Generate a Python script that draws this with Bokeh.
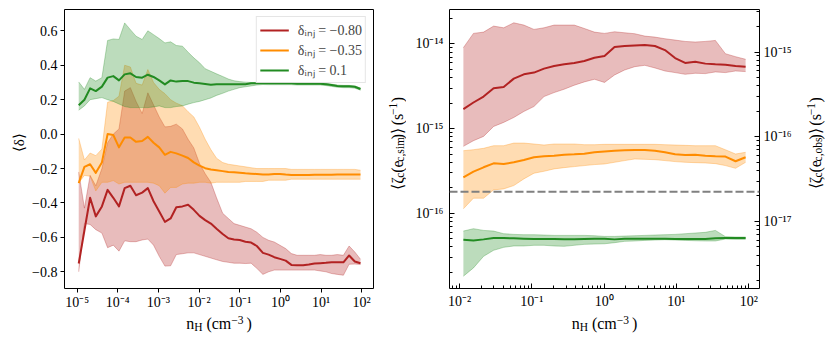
import math
from bokeh.plotting import figure
from bokeh.layouts import row, column
from bokeh.models import (Range1d, LogAxis, LogScale, FixedTicker, CustomJSTickFormatter,
                          Legend, LegendItem, Label, Span)
from bokeh.embed import file_html
from bokeh.resources import INLINE

FONT = "Liberation Serif"

# ---------------- data: left panel (<delta> vs n_H) ----------------
log_nH_left = [-4.96, -4.82, -4.68, -4.54, -4.39, -4.25, -4.11, -3.97, -3.83, -3.69,
               -3.55, -3.40, -3.26, -3.12, -2.98, -2.84, -2.70, -2.56, -2.41, -2.27,
               -2.13, -1.99, -1.85, -1.71, -1.57, -1.42, -1.28, -1.14, -1.00, -0.86,
               -0.72, -0.58, -0.43, -0.29, -0.15, -0.01, 0.13, 0.27, 0.41, 0.56,
               0.70, 0.84, 0.98, 1.12, 1.26, 1.40, 1.55, 1.69, 1.83, 1.97]

red_mean = [-0.752, -0.56, -0.37, -0.478, -0.42, -0.324, -0.37, -0.42, -0.314, -0.30,
            -0.355, -0.34, -0.314, -0.39, -0.45, -0.51, -0.49, -0.425, -0.42, -0.41,
            -0.44, -0.475, -0.5, -0.52, -0.55, -0.58, -0.605, -0.612, -0.615, -0.625,
            -0.63, -0.65, -0.69, -0.70, -0.715, -0.725, -0.735, -0.76, -0.762, -0.762,
            -0.758, -0.752, -0.75, -0.748, -0.745, -0.745, -0.745, -0.705, -0.74, -0.75]
red_upper = [-0.22, -0.43, -0.24, -0.3, -0.2, -0.05, 0.0, 0.03, 0.25, 0.27,
             0.19, 0.12, 0.24, 0.17, 0.1, 0.042, 0.045, 0.058, 0.03, -0.03,
             -0.08, -0.17, -0.23, -0.28, -0.37, -0.46, -0.49, -0.52, -0.53, -0.54,
             -0.55, -0.57, -0.6, -0.617, -0.627, -0.646, -0.665, -0.694, -0.704, -0.704,
             -0.704, -0.704, -0.70, -0.704, -0.704, -0.70, -0.704, -0.65, -0.685, -0.727]
red_lower = [-0.8, -0.52, -0.525, -0.555, -0.575, -0.66, -0.645, -0.68, -0.62, -0.625,
             -0.625, -0.615, -0.61, -0.645, -0.71, -0.767, -0.765, -0.70, -0.695, -0.69,
             -0.69, -0.70, -0.71, -0.72, -0.73, -0.74, -0.745, -0.75, -0.75, -0.752,
             -0.75, -0.78, -0.815, -0.80, -0.79, -0.79, -0.79, -0.79, -0.79, -0.79,
             -0.79, -0.79, -0.795, -0.80, -0.81, -0.815, -0.82, -0.756, -0.755, -0.757]

orange_mean = [-0.285, -0.19, -0.175, -0.225, -0.165, 0.0, -0.005, -0.077, -0.02, -0.02,
               -0.045, -0.04, -0.016, -0.05, -0.077, -0.12, -0.103, -0.112, -0.125, -0.139,
               -0.164, -0.183, -0.198, -0.206, -0.21, -0.215, -0.22, -0.222, -0.225, -0.228,
               -0.23, -0.232, -0.235, -0.234, -0.232, -0.232, -0.235, -0.237, -0.237, -0.237,
               -0.237, -0.236, -0.236, -0.236, -0.236, -0.235, -0.235, -0.235, -0.235, -0.235]
orange_upper = [-0.025, -0.15, -0.11, -0.125, -0.087, 0.185, 0.195, 0.22, 0.4, 0.39,
                0.295, 0.285, 0.375, 0.3, 0.26, 0.235, 0.2, 0.18, 0.165, 0.13,
                0.1, 0.04, -0.03, -0.09, -0.14, -0.165, -0.175, -0.18, -0.185, -0.19,
                -0.195, -0.2, -0.2, -0.2, -0.2, -0.2, -0.2, -0.205, -0.205, -0.205,
                -0.205, -0.205, -0.205, -0.205, -0.205, -0.205, -0.205, -0.205, -0.205, -0.21]
orange_lower = [-0.283, -0.24, -0.245, -0.33, -0.28, -0.28, -0.27, -0.29, -0.28, -0.28,
                -0.28, -0.28, -0.28, -0.285, -0.3, -0.343, -0.31, -0.31, -0.29, -0.285,
                -0.285, -0.28, -0.28, -0.285, -0.28, -0.28, -0.28, -0.28, -0.28, -0.275,
                -0.275, -0.275, -0.275, -0.268, -0.268, -0.268, -0.268, -0.262, -0.262, -0.262,
                -0.262, -0.262, -0.262, -0.262, -0.262, -0.262, -0.262, -0.262, -0.262, -0.262]

green_mean = [0.168, 0.20, 0.266, 0.25, 0.276, 0.328, 0.337, 0.312, 0.347, 0.353,
              0.332, 0.328, 0.345, 0.332, 0.312, 0.289, 0.312, 0.305, 0.308, 0.308,
              0.299, 0.295, 0.291, 0.287, 0.29, 0.29, 0.29, 0.29, 0.29, 0.29,
              0.295, 0.295, 0.295, 0.295, 0.295, 0.295, 0.295, 0.295, 0.293, 0.293,
              0.293, 0.293, 0.293, 0.29, 0.285, 0.28, 0.278, 0.278, 0.275, 0.262]
green_upper = [0.303, 0.26, 0.328, 0.308, 0.328, 0.544, 0.553, 0.55, 0.646, 0.607,
               0.569, 0.55, 0.60, 0.578, 0.555, 0.53, 0.536, 0.515, 0.511, 0.476,
               0.443, 0.415, 0.38, 0.365, 0.35, 0.335, 0.32, 0.31, 0.305, 0.302,
               0.30, 0.30, 0.30, 0.30, 0.30, 0.30, 0.30, 0.30, 0.298, 0.298,
               0.298, 0.298, 0.298, 0.295, 0.29, 0.285, 0.283, 0.283, 0.28, 0.268]
green_lower = [0.139, 0.164, 0.2, 0.206, 0.212, 0.2, 0.19, 0.175, 0.16, 0.154,
               0.154, 0.154, 0.154, 0.158, 0.164, 0.154, 0.154, 0.16, 0.164, 0.174,
               0.183, 0.19, 0.2, 0.21, 0.225, 0.237, 0.25, 0.26, 0.27, 0.275,
               0.28, 0.285, 0.288, 0.287, 0.287, 0.287, 0.287, 0.287, 0.285, 0.285,
               0.285, 0.285, 0.285, 0.282, 0.277, 0.272, 0.27, 0.27, 0.267, 0.255]

# ---------------- data: right panel (log10 <zeta_c> vs n_H) ----------------
log_nH_right = [-1.946, -1.807, -1.667, -1.528, -1.389, -1.249, -1.110, -0.970, -0.831, -0.692,
                -0.552, -0.413, -0.274, -0.134, 0.005, 0.144, 0.284, 0.423, 0.562, 0.702,
                0.841, 0.981, 1.120, 1.259, 1.399, 1.538, 1.677, 1.817, 1.956]

log_zeta_red_mean = [-14.771, -14.692, -14.622, -14.524, -14.508, -14.41, -14.359, -14.339, -14.292, -14.261,
                     -14.241, -14.225, -14.202, -14.163, -14.143, -14.037, -14.025, -14.018, -14.014, -14.025,
                     -14.073, -14.167, -14.225, -14.21, -14.233, -14.241, -14.245, -14.261, -14.269]
log_zeta_red_upper = [-14.045, -13.876, -13.861, -13.79, -13.81, -13.751, -13.778, -13.829, -13.81, -13.778,
                      -13.778, -13.778, -13.818, -13.861, -13.876, -13.857, -13.869, -13.88, -13.908, -13.92,
                      -13.939, -13.955, -13.971, -13.978, -13.971, -13.959, -14.116, -14.151, -14.182]
log_zeta_red_lower = [-15.21, -15.143, -15.092, -14.975, -14.927, -14.869, -14.798, -14.739, -14.622, -14.575,
                      -14.535, -14.488, -14.449, -14.418, -14.455, -14.367, -14.308, -14.269, -14.253, -14.284,
                      -14.32, -14.339, -14.359, -14.347, -14.351, -14.331, -14.339, -14.32, -14.327]

log_zeta_orange_mean = [-15.575, -15.508, -15.457, -15.41, -15.418, -15.398, -15.371, -15.339, -15.327, -15.32,
                        -15.308, -15.304, -15.296, -15.28, -15.27, -15.261, -15.257, -15.253, -15.253, -15.261,
                        -15.28, -15.304, -15.312, -15.308, -15.32, -15.327, -15.331, -15.386, -15.339]
log_zeta_orange_upper = [-15.261, -15.249, -15.233, -15.202, -15.202, -15.171, -15.171, -15.182, -15.194, -15.182,
                         -15.182, -15.182, -15.19, -15.19, -15.186, -15.186, -15.186, -15.186, -15.186, -15.186,
                         -15.19, -15.194, -15.198, -15.202, -15.202, -15.202, -15.25, -15.3, -15.28]
log_zeta_orange_lower = [-15.947, -15.822, -15.822, -15.724, -15.712, -15.673, -15.594, -15.527, -15.504, -15.476,
                         -15.461, -15.449, -15.437, -15.425, -15.418, -15.398, -15.378, -15.359, -15.363, -15.367,
                         -15.378, -15.39, -15.398, -15.402, -15.406, -15.414, -15.437, -15.469, -15.398]

log_zeta_green_mean = [-16.312, -16.32, -16.308, -16.292, -16.292, -16.296, -16.3, -16.304, -16.304, -16.304,
                       -16.308, -16.308, -16.304, -16.3, -16.3, -16.308, -16.3, -16.3, -16.3, -16.3,
                       -16.3, -16.304, -16.304, -16.304, -16.304, -16.296, -16.292, -16.292, -16.292]
log_zeta_green_upper = [-16.21, -16.182, -16.202, -16.21, -16.241, -16.249, -16.253, -16.253, -16.257, -16.261,
                        -16.261, -16.261, -16.261, -16.265, -16.273, -16.273, -16.269, -16.265, -16.261, -16.257,
                        -16.253, -16.249, -16.241, -16.233, -16.225, -16.202, -16.276, -16.28, -16.28]
log_zeta_green_lower = [-16.743, -16.645, -16.508, -16.437, -16.402, -16.386, -16.386, -16.378, -16.378, -16.386,
                        -16.39, -16.378, -16.367, -16.363, -16.36, -16.347, -16.331, -16.327, -16.32, -16.316,
                        -16.312, -16.316, -16.32, -16.324, -16.327, -16.327, -16.304, -16.308, -16.308]

zeta_threshold = 1.79e-16          # dashed reference line (left axis units)
obs_to_sim = 0.125                 # right axis = left axis * obs_to_sim

inj_labels = ["δᵢₙⱼ = −0.80", "δᵢₙⱼ = −0.35", "δᵢₙⱼ = 0.1"]
colors = ["#b22222", "#ff8c00", "#228b22"]

# ---------------- helpers ----------------
SUP_JS = """
const sup = {"-": "\\u207b", "0": "\\u2070", "1": "\\u00b9", "2": "\\u00b2", "3": "\\u00b3",
             "4": "\\u2074", "5": "\\u2075", "6": "\\u2076", "7": "\\u2077", "8": "\\u2078", "9": "\\u2079"};
const e = Math.round(Math.log10(tick));
return "10" + String(e).split("").map(c => sup[c]).join("");
"""

WIDTHS = {"(": 0.333, ")": 0.333, "c": 0.444, "m": 0.778, "n": 0.5, "H": 0.722,
          "e": 0.444, "s": 0.389, "i": 0.278, "o": 0.5, "b": 0.5, ",": 0.25, "−": 0.564,
          "1": 0.5, "3": 0.5, "ζ": 0.44, "δ": 0.5, "⟨": 0.39, "⟩": 0.39}


def text_width(t, size):
    return sum(WIDTHS.get(ch, 0.5) for ch in t) * size


def text_fig(w, h):
    f = figure(width=w, height=h, x_range=Range1d(0, w), y_range=Range1d(0, h),
               min_border=0, toolbar_location=None, output_backend="svg",
               x_axis_location=None, y_axis_location=None)
    f.outline_line_color = None
    f.grid.visible = False
    f.background_fill_color = "white"
    f.border_fill_color = "white"
    return f


def rich_label(f, pieces, cx, cy, rotated):
    """pieces: (text, font px, baseline shift px (+ up), extra advance px after the piece).
    (cx, cy): data coords (1 unit = 1 px, y up) of the baseline centre."""
    total = sum(text_width(t, s) + ex for t, s, _, ex in pieces)
    pos = -total / 2.0
    for t, s, shift, ex in pieces:
        if rotated:
            x, y, ang = cx - shift, cy + pos, math.pi / 2
        else:
            x, y, ang = cx + pos, cy + shift, 0
        f.add_layout(Label(x=x, y=y, text=t, angle=ang, text_align="left", text_baseline="alphabetic",
                           text_font=FONT, text_font_size=f"{s}px", text_color="black"))
        pos += text_width(t, s) + ex


def style_axis(ax, inward):
    ax.axis_line_color = None
    ax.major_tick_line_color = "black"
    ax.minor_tick_line_color = "black"
    ax.major_label_text_font = FONT
    ax.major_label_text_font_size = "14px"
    ax.major_label_text_color = "black"
    if inward:
        ax.major_tick_in, ax.major_tick_out = 5, 0
        ax.minor_tick_in, ax.minor_tick_out = 3, 0
    else:
        ax.major_tick_in, ax.major_tick_out = 0, 4
        ax.minor_tick_in, ax.minor_tick_out = 0, 0


def decade_minors(lo, hi):
    return [m * 10.0 ** e for e in range(lo, hi) for m in range(2, 10)]


TOP_H = 312      # height of the row holding the two panels
BOT_H = 25       # height of the row holding the x-axis labels

# ---------------- left panel ----------------
p1 = figure(width=350, height=TOP_H, x_axis_type="log",
            x_range=Range1d(10 ** -5.31, 10 ** 2.29), y_range=Range1d(-0.897, 0.724),
            output_backend="svg", toolbar_location=None,
            min_border_left=36, min_border_right=5, min_border_top=9, min_border_bottom=23)
p1.grid.visible = False
p1.outline_line_color = "black"
p1.outline_line_width = 1
p1.background_fill_color = "white"
p1.border_fill_color = "white"

nH_left = [10 ** v for v in log_nH_left]
series_left = [(red_mean, red_lower, red_upper), (orange_mean, orange_lower, orange_upper),
               (green_mean, green_lower, green_upper)]
main_renderers = []
for (mean, lo, hi), col in zip(series_left, colors):
    p1.varea(x=nH_left, y1=lo, y2=hi, fill_color=col, fill_alpha=0.3)
    p1.line(nH_left, hi, line_color=col, line_alpha=0.3, line_width=1)
    p1.line(nH_left, lo, line_color=col, line_alpha=0.3, line_width=1)
    r = p1.line(nH_left, mean, line_color=col, line_width=2, line_join="round")
    main_renderers.append(r)

p1.xaxis.ticker = FixedTicker(ticks=[10.0 ** e for e in range(-5, 3)], minor_ticks=[])
p1.xaxis.formatter = CustomJSTickFormatter(code=SUP_JS)
p1.yaxis.ticker = FixedTicker(ticks=[-0.8, -0.6, -0.4, -0.2, 0.0, 0.2, 0.4, 0.6], minor_ticks=[])
p1.yaxis.formatter = CustomJSTickFormatter(
    code="return (tick < -1e-9 ? '\u2212' : '') + Math.abs(tick).toFixed(1);")
for ax in p1.xaxis + p1.yaxis:
    style_axis(ax, inward=False)
p1.xaxis.major_label_standoff = 2
p1.yaxis.major_label_standoff = 3

legend = Legend(items=[LegendItem(label=lab, renderers=[r]) for lab, r in zip(inj_labels, main_renderers)],
                location="top_right", margin=7, padding=3, spacing=1,
                glyph_width=29, glyph_height=18, label_height=18, label_standoff=9,
                label_text_font=FONT, label_text_font_size="14px",
                border_line_color="#cccccc", border_line_width=1,
                background_fill_color="white", background_fill_alpha=0.8)
p1.add_layout(legend)

# ---------------- right panel ----------------
lo_sim, hi_sim = -16.888, -13.594
p2 = figure(width=396, height=TOP_H, x_axis_type="log", y_axis_type="log",
            x_range=Range1d(10 ** -2.138, 10 ** 2.148), y_range=Range1d(10 ** lo_sim, 10 ** hi_sim),
            output_backend="svg", toolbar_location=None,
            min_border_left=43, min_border_right=43, min_border_top=9, min_border_bottom=23)
p2.grid.visible = False
p2.outline_line_color = "black"
p2.outline_line_width = 1
p2.background_fill_color = "white"
p2.border_fill_color = "white"

p2.extra_y_ranges = {"obs": Range1d(10 ** lo_sim * obs_to_sim, 10 ** hi_sim * obs_to_sim)}
p2.extra_y_scales = {"obs": LogScale()}
obs_axis = LogAxis(y_range_name="obs")
p2.add_layout(obs_axis, "right")

nH_right = [10 ** v for v in log_nH_right]
series_right = [(log_zeta_red_mean, log_zeta_red_lower, log_zeta_red_upper),
                (log_zeta_orange_mean, log_zeta_orange_lower, log_zeta_orange_upper),
                (log_zeta_green_mean, log_zeta_green_lower, log_zeta_green_upper)]
for (mean, lo, hi), col in zip(series_right, colors):
    mean_v = [10 ** v for v in mean]
    lo_v = [10 ** v for v in lo]
    hi_v = [10 ** v for v in hi]
    p2.varea(x=nH_right, y1=lo_v, y2=hi_v, fill_color=col, fill_alpha=0.3)
    p2.line(nH_right, hi_v, line_color=col, line_alpha=0.3, line_width=1)
    p2.line(nH_right, lo_v, line_color=col, line_alpha=0.3, line_width=1)
    p2.line(nH_right, mean_v, line_color=col, line_width=2, line_join="round")

p2.add_layout(Span(location=zeta_threshold, dimension="width", line_color="#808080",
                   line_width=2, line_dash="8 3"))

p2.xaxis.ticker = FixedTicker(ticks=[10.0 ** e for e in range(-2, 3)], minor_ticks=decade_minors(-3, 2))
p2.xaxis.formatter = CustomJSTickFormatter(code=SUP_JS)
p2.yaxis[0].ticker = FixedTicker(ticks=[1e-16, 1e-15, 1e-14], minor_ticks=decade_minors(-17, -13))
p2.yaxis[0].formatter = CustomJSTickFormatter(code=SUP_JS)
obs_axis.ticker = FixedTicker(ticks=[1e-17, 1e-16, 1e-15], minor_ticks=decade_minors(-18, -14))
obs_axis.formatter = CustomJSTickFormatter(code=SUP_JS)
for ax in [p2.xaxis[0], p2.yaxis[0], obs_axis]:
    style_axis(ax, inward=True)
p2.xaxis[0].major_label_standoff = 5
p2.yaxis[0].major_label_standoff = 6
obs_axis.major_label_standoff = 4

# ---------------- axis-label strips (real text, composed pieces) ----------------
nH_label = [("n", 16, 0, 0), ("H", 11.5, -3.5, 4), ("(cm", 16, 0, 0), ("−3", 11.5, 4, 3), (")", 16, 0, 0)]
zeta_sim = [("⟨ζ", 16, 0, 0), ("c", 11.5, -3, 0.5), ("(e", 16, 0, 0), ("c,sim", 11.5, -3, 0.5),
            (")⟩", 16, 0, 4), ("(s", 16, 0, 0), ("−1", 11.5, 4, 2), (")", 16, 0, 0)]
zeta_obs = [("⟨ζ", 16, 0, 0), ("c", 11.5, -3, 0.5), ("(e", 16, 0, 0), ("c,obs", 11.5, -3, 0.5),
            (")⟩", 16, 0, 4), ("(s", 16, 0, 0), ("−1", 11.5, 4, 2), (")", 16, 0, 0)]

yl1 = text_fig(28, TOP_H)
rich_label(yl1, [("⟨δ⟩", 15, 0, 0)], 18.5, TOP_H - 150, rotated=True)
yl2 = text_fig(28, TOP_H)
rich_label(yl2, zeta_sim, 18.7, TOP_H - 150, rotated=True)
yr2 = text_fig(28, TOP_H)
rich_label(yr2, zeta_obs, 12.5, TOP_H - 150, rotated=True)

xl1 = text_fig(378, BOT_H)
rich_label(xl1, nH_label, 218.5, BOT_H - 11, rotated=False)
xl2 = text_fig(452, BOT_H)
rich_label(xl2, nH_label, 604 - 378, BOT_H - 11, rotated=False)

layout = column(row(yl1, p1, yl2, p2, yr2), row(xl1, xl2))
with open("out.html", "w", encoding="utf-8") as f:
    f.write(file_html(layout, INLINE))
